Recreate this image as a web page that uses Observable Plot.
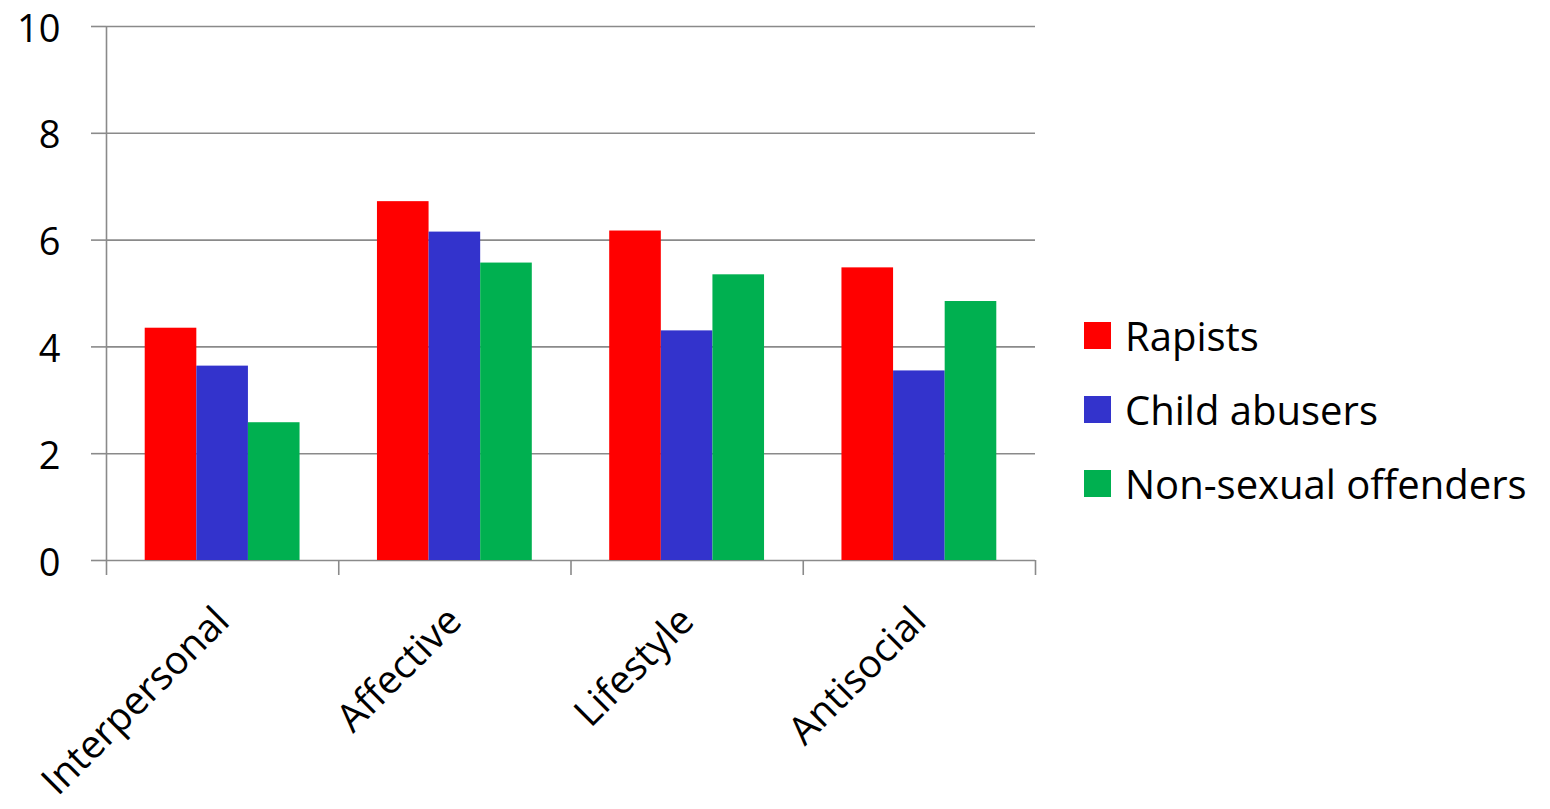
<!DOCTYPE html>
<html>
<head>
<meta charset="utf-8">
<script src="https://cdn.jsdelivr.net/npm/d3@7"></script>
<script src="https://cdn.jsdelivr.net/npm/@observablehq/plot@0.6"></script>
<style>
  html, body { margin: 0; padding: 0; background: #fff; }
  #wrap { display: flex; flex-direction: row; align-items: flex-start; width: 1550px; height: 809px; font-family: "Open Sans", sans-serif; }
  #legend { margin-left: 22px; padding-top: 298px; }
  .row { display: flex; align-items: center; height: 74px; font-size: 40px; color: #000; white-space: nowrap; }
  .sw { width: 27px; height: 27px; margin-right: 14px; flex: none; }
</style>
</head>
<body>
<div id="wrap"></div>
<script>
const categories = ["Interpersonal", "Affective", "Lifestyle", "Antisocial"];
const seriesNames = ["Rapists", "Child abusers", "Non-sexual offenders"];
const rapists = [4.35, 6.72, 6.17, 5.48];
const childAbusers = [3.64, 6.15, 4.30, 3.55];
const nonSexual = [2.58, 5.57, 5.35, 4.85];
const colors = ["#FF0000", "#3333CC", "#00B050"];
const yTicks = [0, 2, 4, 6, 8, 10];

const seriesValues = [rapists, childAbusers, nonSexual];
const rows = [];
categories.forEach((c, ci) => {
  seriesNames.forEach((s, si) => {
    rows.push({category: c, ci, series: s, si, value: seriesValues[si][ci]});
  });
});

const gap = 1 / 6;      // fraction of a category left empty on each side
const barW = 2 / 9;     // fraction of a category taken by one bar
const grid = "#8a8a8a";

const chart = Plot.plot({
  width: 1062,
  height: 809,
  marginLeft: 106,
  marginRight: 27,
  marginTop: 26,
  marginBottom: 249,
  style: {fontFamily: "'Open Sans', sans-serif", background: "#fff"},
  x: {domain: [0, categories.length], axis: null},
  y: {domain: [0, 10], axis: null},
  color: {domain: seriesNames, range: colors},
  marks: [
    Plot.ruleY(yTicks, {stroke: grid, strokeWidth: 1.6}),
    Plot.rect(rows, {
      x1: d => d.ci + gap + d.si * barW,
      x2: d => d.ci + gap + (d.si + 1) * barW,
      y1: () => 0,
      y2: "value",
      fill: "series"
    }),
    Plot.ruleX([0], {stroke: grid, strokeWidth: 1.6}),
    Plot.axisY({ticks: yTicks, tickSize: 15, tickFormat: () => "", stroke: grid, strokeWidth: 1.6, label: null}),
    Plot.axisY({ticks: yTicks, tickSize: 0, tickPadding: 46, fontSize: 38, dy: 3, fill: "#000", label: null}),
    Plot.axisX({ticks: d3.range(categories.length + 1), tickSize: 15, tickFormat: () => "", stroke: grid, strokeWidth: 1.6, label: null}),
    Plot.text(categories, {
      x: (d, i) => i + 0.5,
      y: () => 0,
      text: d => d,
      rotate: -45,
      textAnchor: "end",
      fontSize: 39,
      fill: "#000",
      dy: 54
    })
  ]
});

const wrap = document.getElementById("wrap");
wrap.appendChild(chart);

const legend = document.createElement("div");
legend.id = "legend";
seriesNames.forEach((s, i) => {
  const row = document.createElement("div");
  row.className = "row";
  const sw = document.createElement("span");
  sw.className = "sw";
  sw.style.background = colors[i];
  const label = document.createElement("span");
  label.textContent = s;
  row.appendChild(sw);
  row.appendChild(label);
  legend.appendChild(row);
});
wrap.appendChild(legend);
</script>
</body>
</html>
